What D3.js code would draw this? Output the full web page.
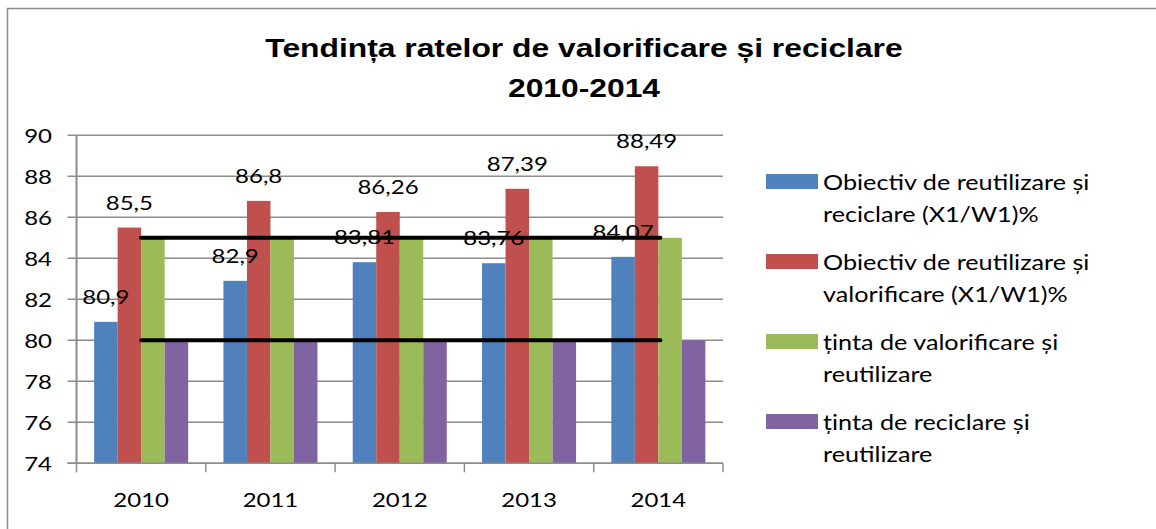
<!DOCTYPE html>
<html>
<head>
<meta charset="utf-8">
<script src="https://cdn.jsdelivr.net/npm/d3@7/dist/d3.min.js"></script>
<style>
  html, body { margin: 0; padding: 0; background: #fff; }
  svg { display: block; }
  text { font-family: Lato, "Open Sans", sans-serif; fill: #000; }
</style>
</head>
<body>
<svg id="chart" width="1156" height="529"></svg>
<script>
// Years on the category axis
const years = ["2010", "2011", "2012", "2013", "2014"];

// Series names (legend)
const seriesNames = [
  "Obiectiv de reutilizare și reciclare (X1/W1)%",
  "Obiectiv de reutilizare și valorificare (X1/W1)%",
  "ținta de valorificare și reutilizare",
  "ținta de reciclare și reutilizare"
];

// Legend text split across two lines
const legendLines = [
  ["Obiectiv de reutilizare și", "reciclare (X1/W1)%"],
  ["Obiectiv de reutilizare și", "valorificare (X1/W1)%"],
  ["ținta de valorificare și", "reutilizare"],
  ["ținta de reciclare și", "reutilizare"]
];

// Values per series
const reciclare = [80.9, 82.9, 83.81, 83.76, 84.07];
const valorificare = [85.5, 86.8, 86.26, 87.39, 88.49];
const tintaValorificare = [85, 85, 85, 85, 85];
const tintaReciclare = [80, 80, 80, 80, 80];

// Which series carry value labels
const labelled = [true, true, false, false];

// Horizontal target lines
const targetLines = [85, 80];

// Y axis ticks
const yTicks = [74, 76, 78, 80, 82, 84, 86, 88, 90];

const colors = ["#4F81BD", "#C0504D", "#9BBB59", "#8064A2"];

const seriesValues = [reciclare, valorificare, tintaValorificare, tintaReciclare];

// All lettering in this chart is drawn slightly widened
const SX = 1.2;
const place = (px, py) => `translate(${px},${py}) scale(${SX},1)`;

const svg = d3.select("#chart");

// Outer chart frame (top and left edges visible)
svg.append("rect")
  .attr("x", 7.5).attr("y", 8.5)
  .attr("width", 1170).attr("height", 540)
  .attr("fill", "none")
  .attr("stroke", "#8a8a8a")
  .attr("stroke-width", 1.5);

// Title
const titleLines = ["Tendința ratelor de valorificare și reciclare", "2010-2014"];
svg.append("g")
  .selectAll("text")
  .data(titleLines)
  .join("text")
  .attr("transform", (d, i) => place(584, 57 + i * 40))
  .attr("text-anchor", "middle")
  .style("font-family", "'Liberation Sans', Arial, sans-serif")
  .style("font-weight", "bold")
  .style("font-size", "26.5px")
  .text(d => d);

const plot = { left: 76.5, right: 723, top: 135.3, bottom: 463.3 };

const x = d3.scaleBand().domain(years).range([plot.left, plot.right]).paddingInner(0).paddingOuter(0);
const xs = d3.scaleBand().domain(d3.range(4)).range([0, x.bandwidth()]).paddingInner(0).paddingOuter(0.75);
const y = d3.scaleLinear().domain([74, 90]).range([plot.bottom, plot.top]);

// Horizontal gridlines
svg.append("g")
  .selectAll("line")
  .data(yTicks)
  .join("line")
  .attr("x1", plot.left - 9).attr("x2", plot.right)
  .attr("y1", d => y(d)).attr("y2", d => y(d))
  .attr("stroke", "#8c8c8c")
  .attr("stroke-width", 1.5);

// Y tick labels
svg.append("g")
  .selectAll("text")
  .data(yTicks)
  .join("text")
  .attr("transform", d => place(52, y(d)))
  .attr("dy", "0.36em")
  .attr("text-anchor", "end")
  .style("font-size", "20px")
  .text(d => d);

// Bars
const groups = svg.append("g")
  .selectAll("g")
  .data(seriesValues)
  .join("g")
  .attr("fill", (d, i) => colors[i]);

groups.selectAll("rect")
  .data((vals, si) => vals.map((v, yi) => ({ v, si, yi })))
  .join("rect")
  .attr("x", d => x(years[d.yi]) + xs(d.si))
  .attr("width", xs.bandwidth())
  .attr("y", d => y(d.v))
  .attr("height", d => y(74) - y(d.v));

// Y axis line
svg.append("line")
  .attr("x1", plot.left).attr("x2", plot.left)
  .attr("y1", plot.top).attr("y2", plot.bottom)
  .attr("stroke", "#8c8c8c").attr("stroke-width", 2);

// X axis line and tick marks
svg.append("line")
  .attr("x1", plot.left - 9).attr("x2", plot.right)
  .attr("y1", plot.bottom).attr("y2", plot.bottom)
  .attr("stroke", "#8c8c8c").attr("stroke-width", 1.5);

const boundaries = years.map(yr => x(yr)).concat([plot.right]);
svg.append("g")
  .selectAll("line")
  .data(boundaries)
  .join("line")
  .attr("x1", d => d).attr("x2", d => d)
  .attr("y1", plot.bottom).attr("y2", plot.bottom + 9)
  .attr("stroke", "#8c8c8c").attr("stroke-width", 1.5);

// X tick labels
svg.append("g")
  .selectAll("text")
  .data(years)
  .join("text")
  .attr("transform", d => place(x(d) + x.bandwidth() / 2, 507))
  .attr("text-anchor", "middle")
  .style("font-size", "20px")
  .text(d => d);

// Value labels
const fmt = v => String(v).replace(".", ",");
seriesValues.forEach((vals, si) => {
  if (!labelled[si]) return;
  svg.append("g")
    .selectAll("text")
    .data(vals)
    .join("text")
    .attr("transform", (v, yi) => place(x(years[yi]) + xs(si) + xs.bandwidth() / 2, y(v) - 18))
    .attr("text-anchor", "middle")
    .style("font-size", "20px")
    .text(fmt);
});

// Target lines across the years
const firstC = x(years[0]) + x.bandwidth() / 2;
const lastC = x(years[years.length - 1]) + x.bandwidth() / 2;
svg.append("g")
  .selectAll("line")
  .data(targetLines)
  .join("line")
  .attr("x1", firstC).attr("x2", lastC + 2)
  .attr("y1", d => y(d)).attr("y2", d => y(d))
  .attr("stroke", "#000")
  .attr("stroke-width", 4)
  .attr("stroke-linecap", "round");

// Legend
const legend = svg.append("g")
  .selectAll("g")
  .data(legendLines)
  .join("g")
  .attr("transform", (d, i) => `translate(766, ${174 + i * 80})`);

legend.append("rect")
  .attr("width", 52).attr("height", 15)
  .attr("fill", (d, i) => colors[i]);

legend.append("text")
  .attr("transform", place(57, 0))
  .style("font-size", "21px")
  .selectAll("tspan")
  .data(d => d)
  .join("tspan")
  .attr("x", 0)
  .attr("y", (d, i) => 16 + i * 32)
  .text(d => d);
</script>
</body>
</html>
